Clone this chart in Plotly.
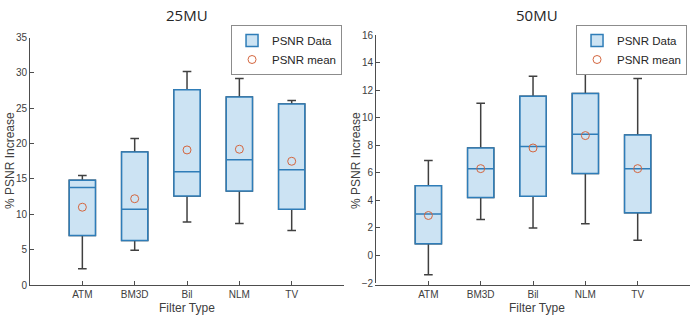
import plotly.graph_objects as go

filters = ["ATM", "BM3D", "Bil", "NLM", "TV"]

# 25MU panel
mu25_lower = [2.3, 4.9, 8.9, 8.7, 7.7]
mu25_q1 = [7.0, 6.3, 12.6, 13.3, 10.7]
mu25_median = [13.8, 10.7, 16.0, 17.7, 16.3]
mu25_q3 = [14.8, 18.8, 27.6, 26.6, 25.6]
mu25_upper = [15.5, 20.7, 30.2, 29.2, 26.1]
mu25_mean = [11.0, 12.2, 19.1, 19.2, 17.5]

# 50MU panel
mu50_lower = [-1.4, 2.6, 2.0, 2.3, 1.1]
mu50_q1 = [0.85, 4.2, 4.3, 5.95, 3.1]
mu50_median = [3.0, 6.3, 7.9, 8.8, 6.3]
mu50_q3 = [5.05, 7.8, 11.55, 11.75, 8.75]
mu50_upper = [6.9, 11.05, 13.0, 14.3, 12.85]
mu50_mean = [2.9, 6.3, 7.8, 8.7, 6.3]

titles = ["25MU", "50MU"]
y_ranges = [[0, 35], [-2, 16]]
y_dticks = [5, 2]
x_title = "Filter Type"
y_title = "% PSNR Increase"

BOX_FILL = "rgb(204,227,243)"
BOX_LINE = "#2F7DB8"
WHISKER = "#404040"
MEAN_COLOR = "#D4663F"
AXIS_COLOR = "#4D4D4D"
FONT = "Liberation Sans, Arial, sans-serif"

fig = go.Figure()

panels = [
    (mu25_lower, mu25_q1, mu25_median, mu25_q3, mu25_upper, mu25_mean),
    (mu50_lower, mu50_q1, mu50_median, mu50_q3, mu50_upper, mu50_mean),
]

for i, (lo, q1, med, q3, up, mean) in enumerate(panels):
    xa = "x" if i == 0 else "x2"
    ya = "y" if i == 0 else "y2"
    lg = "legend" if i == 0 else "legend2"
    fig.add_trace(go.Box(
        x=filters, q1=q1, median=med, q3=q3, lowerfence=lo, upperfence=up,
        width=0.5, whiskerwidth=0.33, fillcolor="rgba(0,0,0,0)",
        line=dict(color=WHISKER, width=1.5), xaxis=xa, yaxis=ya,
        showlegend=False, hoverinfo="skip", legend=lg,
    ))
    fig.add_trace(go.Box(
        x=filters, q1=q1, median=med, q3=q3, lowerfence=q1, upperfence=q3,
        width=0.5, whiskerwidth=0, fillcolor=BOX_FILL,
        line=dict(color=BOX_LINE, width=1.5), xaxis=xa, yaxis=ya,
        name="PSNR Data", showlegend=True, legend=lg,
    ))
    fig.add_trace(go.Scatter(
        x=filters, y=mean, mode="markers", name="PSNR mean",
        marker=dict(symbol="circle-open", size=8, color=MEAN_COLOR,
                    line=dict(width=1, color=MEAN_COLOR)),
        xaxis=xa, yaxis=ya, legend=lg,
    ))

axis_common = dict(
    showline=True, linecolor=AXIS_COLOR, linewidth=1, ticks="inside",
    ticklen=4, tickcolor=AXIS_COLOR, showgrid=False, zeroline=False,
    tickfont=dict(size=10, color="#404040", family=FONT), automargin=False,
)

legend_common = dict(
    xanchor="right", yanchor="top", xref="paper", yref="paper",
    bgcolor="white", bordercolor="#8C8C8C", borderwidth=1,
    font=dict(size=11.5, color="#262626", family=FONT), tracegroupgap=0,
    itemwidth=30,
)

title_font = dict(size=15, color="#262626", family="Open Sans, sans-serif")
label_font = dict(size=12, color="#404040", family=FONT)

def note(text, x, y, font, angle=0):
    return dict(text=text, x=x, y=y, xref="paper", yref="paper", xanchor="center",
                yanchor="middle", textangle=angle, showarrow=False, font=font)

fig.update_layout(
    width=690, height=316,
    margin=dict(l=0, r=0, t=35, b=31),
    paper_bgcolor="white", plot_bgcolor="white",
    boxmode="overlay",
    font=dict(family=FONT, color="#404040"),
    xaxis=dict(domain=[0.0435, 0.4986], type="category", range=[-1, 5], **axis_common),
    xaxis2=dict(domain=[0.545, 1.0], type="category", range=[-1, 5], **axis_common),
    yaxis=dict(domain=[0.0, 0.99], range=y_ranges[0], dtick=y_dticks[0], anchor="x", **axis_common),
    yaxis2=dict(domain=[0.008, 1.0], range=y_ranges[1], dtick=y_dticks[1], anchor="x2", **axis_common),
    legend=dict(x=0.4957, y=1.04, **legend_common),
    legend2=dict(x=0.9957, y=1.04, **legend_common),
    annotations=[
        note(titles[0], 187 / 690, (285 - 15) / 250, title_font),
        note(titles[1], 537 / 690, (285 - 15) / 250, title_font),
        note(x_title, 187 / 690, (285 - 308) / 250, label_font),
        note(x_title, 537 / 690, (285 - 308) / 250, label_font),
        note(y_title, 10 / 690, (285 - 161) / 250, label_font, -90),
        note(y_title, 356 / 690, (285 - 161) / 250, label_font, -90),
    ],
)

fig.write_html("out.html", config={"displayModeBar": False},
               post_script="document.body.style.margin='0';")
